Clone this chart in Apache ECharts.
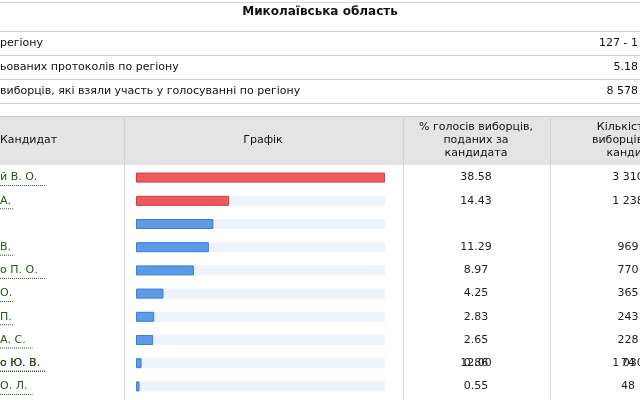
<!DOCTYPE html><html><head><meta charset="utf-8">
<script src="https://cdn.jsdelivr.net/npm/echarts@6/dist/echarts.min.js"></script>
<style>html,body{margin:0;padding:0;background:#fff}#c{width:640px;height:400px}</style></head><body><div id="c"></div>
<script>
const candidates=["й В. О.","А.","о Ю. В.","В.","о П. О.","О.","П.","А. С.","о Ю. В.","О. Л."];
const percents=[38.58,14.43,12.00,11.29,8.97,4.25,2.83,2.65,0.86,0.55];
const counts=["3 310","1 238","1 030","969","770","365","243","228","74","48"];
const infoLabels=["регіону","ьованих протоколів по регіону","виборців, які взяли участь у голосуванні по регіону"];
const infoValues=["127 - 1","5.18","8 578"];
const title="Миколаївська область";
const F='"DejaVu Sans", Verdana, sans-serif';
const chart=echarts.init(document.getElementById('c'));
chart.setOption({
 animation:false,
 grid:{left:136,right:255,top:166,height:232},
 xAxis:{type:'value',min:0,max:38.58,show:false},
 yAxis:{type:'category',data:candidates,inverse:true,show:false},
 series:[{type:'bar',barWidth:10,data:percents.map((v,i)=>({value:v,itemStyle:{color:i<2?'#f0595c':'#5b9bea',borderColor:i<2?'#c94043':'#3d7fd0',borderWidth:1}})),
  showBackground:true,backgroundStyle:{color:'#edf2fb'}}]
});
const g=[];
const line=(x1,y1,x2,y2,c)=>g.push({type:'line',shape:{x1,y1,x2,y2},style:{stroke:c||'#d0d0d0',lineWidth:1},silent:true});
const txt=(x,y,t,o)=>g.push({type:'text',x,y,style:Object.assign({text:t,font:'11px '+F,fill:'#111',textVerticalAlign:'middle'},o||{}),silent:true});
line(0,2.5,640,2.5);
txt(320,12,title,{font:'bold 12px '+F,textAlign:'center'});
[31.5,55.5,79.5,103.5].forEach(y=>line(0,y,640,y));
infoLabels.forEach((t,i)=>{txt(0,43+24*i,t);txt(638,43+24*i,infoValues[i],{textAlign:'right'});});
g.push({type:'rect',shape:{x:0,y:116,width:640,height:49},style:{fill:'#e4e4e4'},silent:true});
line(0,116.5,640,116.5,'#c8c8c8');
txt(0,140,'Кандидат');
txt(263,140,'Графік',{textAlign:'center'});
txt(476,140,'% голосів виборців,\nподаних за\nкандидата',{textAlign:'center',lineHeight:13});
txt(628,140,'Кількість г\nвиборців, по\nкандид',{textAlign:'center',lineHeight:13});
[124.5,403.5,550.5].forEach(x=>line(x,116,x,400,'#d4d4d4'));
candidates.forEach((c,i)=>{
 const y=chart.convertToPixel({yAxisIndex:0},c);
 g.push({type:'text',x:0,y:y,style:{text:c,font:'11px '+F,fill:'#2f4f1f',textVerticalAlign:'middle'},silent:true});
 const w=c.length*6.5;
 g.push({type:'line',shape:{x1:0,y1:y+8,x2:w,y2:y+8},style:{stroke:'#2f4f1f',lineWidth:1,lineDash:[1,1]},silent:true});
 txt(476,y,percents[i].toFixed(2),{textAlign:'center',fill:'#222'});
 txt(628,y,counts[i],{textAlign:'center',fill:'#222'});
});
chart.setOption({graphic:g});
</script></body></html>
